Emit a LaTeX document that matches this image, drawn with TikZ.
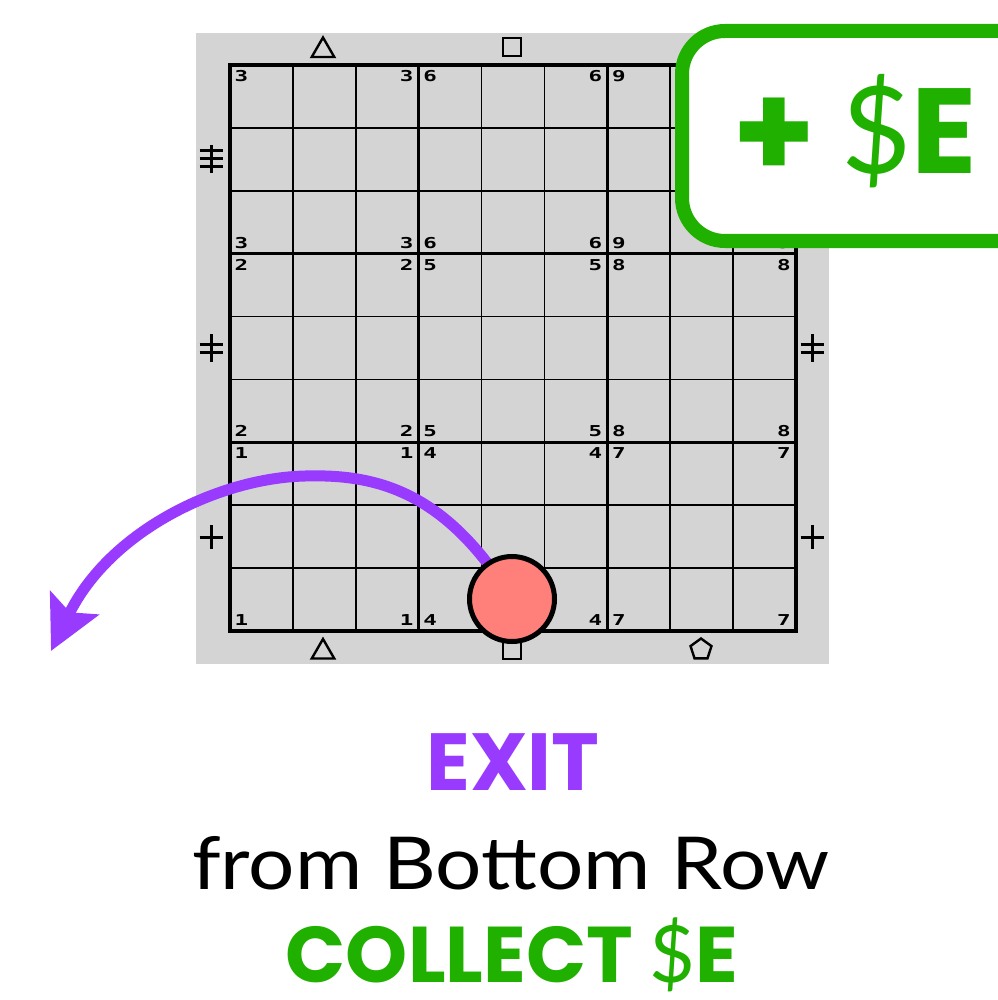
\documentclass[tikz,border=0pt]{standalone}
\usepackage{fontspec}
\setmainfont{Lato}
\newfontfamily\popp{Poppins}
\newfontfamily\digf{DejaVu Sans Mono}
\usetikzlibrary{arrows.meta,shapes.geometric}
\definecolor{gridbg}{RGB}{212,212,212}
\definecolor{exitpurple}{RGB}{153,58,255}
\definecolor{cashgreen}{RGB}{31,176,0}
\definecolor{ballred}{RGB}{255,128,122}
\pgfdeclarelayer{top}
\pgfsetlayers{main,top}
\tikzset{
  thingrid/.style={line width=1.6pt, line cap=rect},
  thickgrid/.style={line width=3.5pt, line cap=rect},
  corner/.style={font=\digf\bfseries\fontsize{15}{15}\selectfont, inner sep=0pt},
  shapesym/.style={draw, line width=2.4pt, inner sep=0pt},
  barsym/.style={line width=3pt},
  exitarrow/.style={exitpurple, line width=11pt, -{Stealth[length=53pt, width=53pt, inset=10pt]}},
  ballstyle/.style={circle, draw=black, line width=5pt, fill=ballred, minimum size=85pt, inner sep=0pt},
}
\begin{document}
\begin{tikzpicture}[x=1pt, y=-1pt]
\useasboundingbox (0,0) rectangle (997,1000);
\fill[white] (0,0) rectangle (997,1000);
% board background
\fill[gridbg] (196,33) rectangle (829,664);
% thin cell lines
\foreach \i in {1,2,4,5,7,8}{
  \draw[thingrid] ({230+\i*566/9},65) -- ({230+\i*566/9},631);
  \draw[thingrid] (230,{65+\i*566/9}) -- (796,{65+\i*566/9});
}
% thick block lines
\foreach \i in {3,6}{
  \draw[thickgrid] ({230+\i*566/9},65) -- ({230+\i*566/9},631);
  \draw[thickgrid] (230,{65+\i*566/9}) -- (796,{65+\i*566/9});
}
\draw[thickgrid] (230,65) rectangle (796,631);
% corner digits
\foreach \c in {0,1,2}{
  \foreach \r in {0,1,2}{
    \pgfmathtruncatemacro{\dg}{3*\c+3-\r}
    \pgfmathsetmacro{\L}{230+\c*566/3}
    \pgfmathsetmacro{\T}{65+\r*566/3}
    \node[corner] (tl\c\r) at ({\L+11.5},{\T+11}) {\scalebox{1.5}[1]{\dg}};
    \node[corner] (tr\c\r) at ({\L+566/3-12},{\T+11}) {\scalebox{1.5}[1]{\dg}};
    \node[corner] (bl\c\r) at ({\L+11.5},{\T+566/3-11}) {\scalebox{1.5}[1]{\dg}};
    \node[corner] (br\c\r) at ({\L+566/3-12},{\T+566/3-11}) {\scalebox{1.5}[1]{\dg}};
  }
}
% column symbols
\node[shapesym, regular polygon, regular polygon sides=3, minimum size=26pt] (ttri) at (323,50.5) {};
\node[shapesym, rectangle, minimum size=18pt] (tsq) at (512,47) {};
\node[shapesym, regular polygon, regular polygon sides=3, minimum size=26pt] (btri) at (323,652) {};
\node[shapesym, rectangle, minimum size=18pt] (bsq) at (512,650) {};
\node[shapesym, regular polygon, regular polygon sides=5, minimum size=22pt] (bpent) at (701,649.5) {};
% row symbols (bars)
\draw[barsym] (211,145) -- (211,173);
\foreach \y in {151,159,167}{\draw[barsym] (199.5,\y) -- (222.5,\y);}
\draw[barsym] (211,334) -- (211,362);
\foreach \y in {344,352}{\draw[barsym] (199.5,\y) -- (222.5,\y);}
\draw[barsym] (211,525) -- (211,549);
\draw[barsym] (199.5,537) -- (222.5,537);
\draw[barsym] (812,334) -- (812,362);
\foreach \y in {344,352}{\draw[barsym] (800.5,\y) -- (823.5,\y);}
\draw[barsym] (812,525) -- (812,549);
\draw[barsym] (800.5,537) -- (823.5,537);
% ball on top layer
\begin{pgfonlayer}{top}
\node[ballstyle] (ball) at (512,599) {};
\end{pgfonlayer}
% exit arrow
\coordinate (exitpt) at (51,651);
\draw[exitarrow] (ball.center) .. controls (445,490) and (375,474) .. (305,476) .. controls (220,478) and (110,530) .. (exitpt);
% cash box
\begin{pgfonlayer}{top}
\draw[cashgreen, line width=14pt, fill=white, rounded corners=43pt] (682,31) rectangle (1070,241);
\node[anchor=base, inner sep=0pt, text=cashgreen, font=\popp\bfseries\fontsize{121}{121}\selectfont] (cash) at (855,174) {\raisebox{-5pt}{\scalebox{1.1}{+}} {\rmfamily\mdseries\$}E};
\end{pgfonlayer}
% caption
\node[anchor=base, inner sep=0pt, text=exitpurple, font=\popp\bfseries\fontsize{81}{81}\selectfont] (exitlbl) at (513,790) {EXIT};
\node[anchor=base, inner sep=0pt, font=\fontsize{73}{73}\selectfont] (fromlbl) at (511,889) {\scalebox{1.12}[1]{from Bottom Row}};
\node[anchor=base, inner sep=0pt, text=cashgreen, font=\popp\bfseries\fontsize{79}{79}\selectfont] (collectlbl) at (512,982) {COLLECT {\rmfamily\mdseries\$}E};
\end{tikzpicture}
\end{document}
